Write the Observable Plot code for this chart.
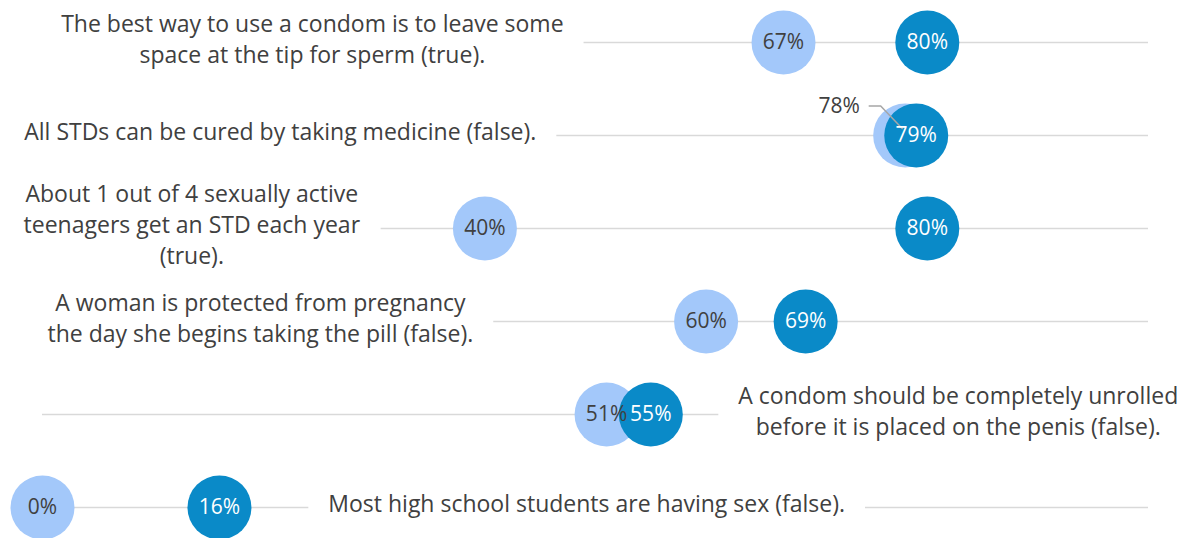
<!DOCTYPE html>
<html><head><meta charset="utf-8">
<script src="https://cdn.jsdelivr.net/npm/d3@7"></script>
<script src="https://cdn.jsdelivr.net/npm/@observablehq/plot@0.6"></script>
<style>body{margin:0;background:#fff;font-family:"Open Sans",sans-serif}</style>
</head><body><div id="chart"></div>
<script>
const statements = [
  "The best way to use a condom is to leave some\nspace at the tip for sperm (true).",
  "All STDs can be cured by taking medicine (false).",
  "About 1 out of 4 sexually active\nteenagers get an STD each year\n(true).",
  "A woman is protected from pregnancy\nthe day she begins taking the pill (false).",
  "A condom should be completely unrolled\nbefore it is placed on the penis (false).",
  "Most high school students are having sex (false)."
];
const preValues = [67, 78, 40, 60, 51, 0];
const postValues = [80, 79, 80, 69, 55, 16];
// where each statement label sits along the 0–100% axis
const labelPosition = [24.4, 21.5, 13.5, 19.7, 82.8, 49.2];
const preLabelOutside = [false, true, false, false, false, false];

const rows = statements.map((s, i) => ({
  statement: s, pre: preValues[i], post: postValues[i],
  labelX: labelPosition[i], outside: preLabelOutside[i]
}));

const LIGHT = "#A3C8FA", DARK = "#0A8AC8", TEXT = "#404040";
const LABEL_SIZE = 23, VALUE_SIZE = 21;

const leader = (index, {x, y}) => {
  const g = d3.create("svg:g");
  for (const d of rows.filter(r => r.outside)) {
    const cx = x(d.pre) - 66, cy = y(d.statement) - 29;
    g.append("path")
      .attr("d", `M${cx + 30},${cy}H${cx + 42}L${x(d.pre) - 2},${y(d.statement) - 6}`)
      .attr("fill", "none").attr("stroke", "#A6A6A6").attr("stroke-width", 1.5);
  }
  return g.node();
};

const chart = Plot.plot({
  width: 1184, height: 538,
  margin: 0,
  style: {fontFamily: "'Open Sans', sans-serif", background: "#fff"},
  x: {domain: [0, 100], range: [42, 1148], axis: null},
  y: {type: "point", domain: statements, range: [41, 507], padding: 0, axis: null},
  marks: [
    Plot.ruleY(rows, {y: "statement", x1: 0, x2: 100, stroke: "#D9D9D9", strokeWidth: 1.5}),
    Plot.text(rows, {x: "labelX", y: "statement", text: "statement", fontSize: LABEL_SIZE,
      lineHeight: 1.35, textAnchor: "middle", dy: -5, fill: TEXT}),
    Plot.dot(rows, {x: "pre", y: "statement", r: 32, fill: LIGHT}),
    Plot.dot(rows, {x: "post", y: "statement", r: 32, fill: DARK}),
    Plot.text(rows.filter(d => !d.outside), {x: "pre", y: "statement", text: d => d.pre + "%", fontSize: VALUE_SIZE, fill: TEXT}),
    Plot.text(rows.filter(d => d.outside), {x: "pre", y: "statement", text: d => d.pre + "%", fontSize: VALUE_SIZE, fill: TEXT, dx: -66, dy: -29}),
    leader,
    Plot.text(rows, {x: "post", y: "statement", text: d => d.post + "%", fontSize: VALUE_SIZE, fill: "white"})
  ]
});
document.getElementById("chart").append(chart);

// white label boxes (like the chart's data-label fill) behind each statement
const flat = new Set(statements.map(s => s.replace(/\n/g, "")));
const NS = "http://www.w3.org/2000/svg";
for (const t of Array.from(chart.querySelectorAll("text"))) {
  if (!flat.has(t.textContent.replace(/\n/g, ""))) continue;
  const b = t.getBBox();
  const r = document.createElementNS(NS, "rect");
  r.setAttribute("x", b.x - 20);
  r.setAttribute("y", b.y - 2);
  r.setAttribute("width", b.width + 40);
  r.setAttribute("height", b.height + 4);
  r.setAttribute("fill", "white");
  r.setAttribute("stroke", "none");
  const tr = t.getAttribute("transform");
  if (tr) r.setAttribute("transform", tr);
  t.parentNode.insertBefore(r, t);
}
</script>
</body></html>
